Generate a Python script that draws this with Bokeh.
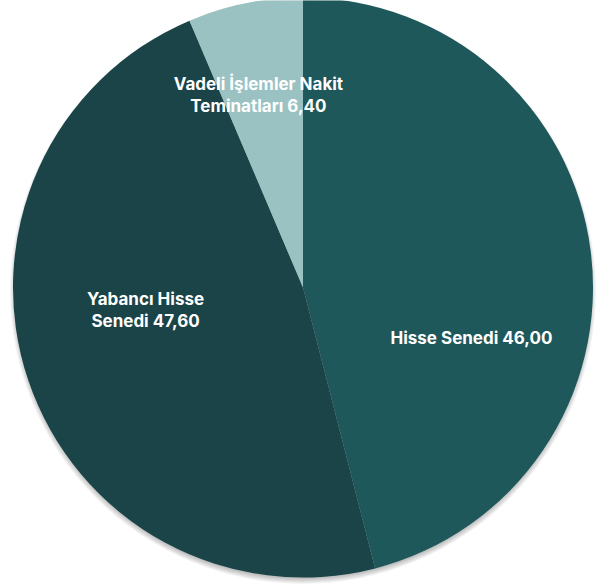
import math
from bokeh.plotting import figure
from bokeh.models import Range1d, ColumnDataSource
from bokeh.core.properties import value
from bokeh.embed import file_html
from bokeh.resources import INLINE

# ---- data ----
categories = ["Hisse Senedi", "Yabancı Hisse Senedi", "Vadeli İşlemler Nakit Teminatları"]
label_texts = ["Hisse Senedi 46,00", "Yabancı Hisse\nSenedi 47,60", "Vadeli İşlemler Nakit\nTeminatları 6,40"]
values = [46.00, 47.60, 6.40]
colors = ["#1e585b", "#1a4448", "#9ac2c2"]

# ---- layout ----
W, H = 603, 587
cx, cy, R = 302.5, 300.0, 290.0
label_r = [176, 159, 198]          # label distance from centre (px)
label_turn = [-24.0, -10.7, 1.5]    # label angle nudge from mid-angle (deg)

total = sum(values)
starts, ends, lx, ly = [], [], [], []
a = 90.0
for i, v in enumerate(values):
    sweep = v / total * 360.0
    end = a
    start = a - sweep
    starts.append(math.radians(start))
    ends.append(math.radians(end))
    mid = (start + end) / 2.0 + label_turn[i]
    lx.append(cx + label_r[i] * math.cos(math.radians(mid)))
    ly.append(cy + label_r[i] * math.sin(math.radians(mid)))
    a = start

p = figure(width=W, height=H, output_backend="svg", toolbar_location=None,
           x_range=Range1d(0, W), y_range=Range1d(0, H),
           x_axis_location=None, y_axis_location=None, min_border=0)
p.outline_line_color = None
p.xgrid.visible = False
p.ygrid.visible = False
p.background_fill_color = "white"
p.border_fill_color = "white"

# soft drop shadow
for k in range(7):
    p.circle(x=[cx], y=[cy - 3.5], radius=R + 3 - k, fill_color="black",
             fill_alpha=0.045, line_color=None)

src = ColumnDataSource(dict(cat=categories, start=starts, end=ends, color=colors))
p.wedge(x=cx, y=cy, radius=R, start_angle="start", end_angle="end",
        fill_color="color", line_color=None, source=src)

lsrc = ColumnDataSource(dict(x=lx, y=ly, t=label_texts))
p.text(x="x", y="y", text="t", source=lsrc, text_color="white",
       text_font=value("Inter"), text_font_style="bold", text_font_size="17px",
       text_align="center", text_baseline="middle", text_line_height=1.1)

open("out.html", "w").write(file_html(p, INLINE))
